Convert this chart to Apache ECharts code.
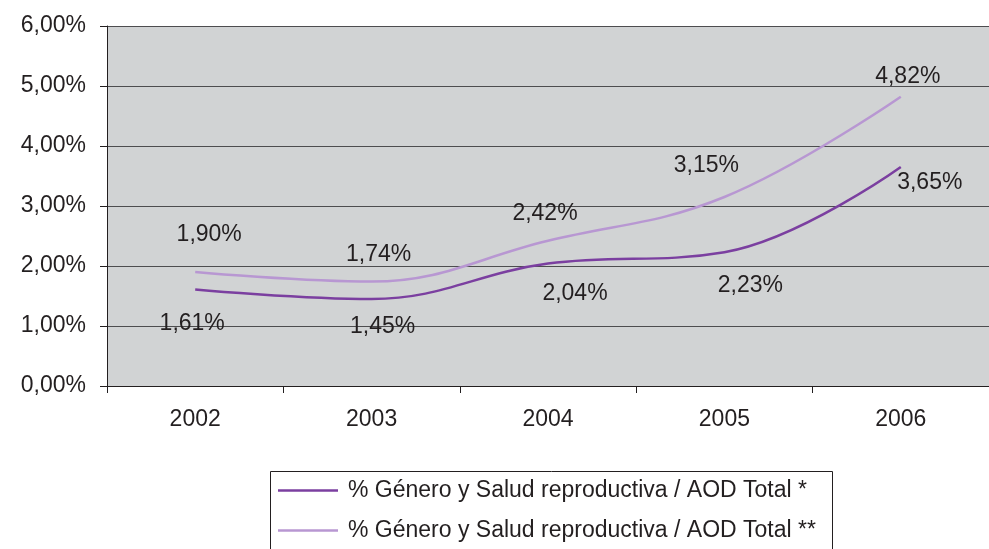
<!DOCTYPE html>
<html>
<head>
<meta charset="utf-8">
<title>Género y Salud reproductiva / AOD Total</title>
<script src="https://cdn.jsdelivr.net/npm/echarts@6/dist/echarts.min.js"></script>
<style>
  html, body { margin: 0; padding: 0; background: #fff; }
  #chart { width: 989px; height: 549px; }
</style>
</head>
<body>
<div id="chart"></div>
<script>
// datos del gráfico
const years = ['2002', '2003', '2004', '2005', '2006'];
const serie1Nombre = '% Género y Salud reproductiva / AOD Total *';
const serie2Nombre = '% Género y Salud reproductiva / AOD Total **';
const serie1 = [1.61, 1.45, 2.04, 2.23, 3.65];
const serie2 = [1.90, 1.74, 2.42, 3.15, 4.82];

// desplazamiento de cada etiqueta respecto a su punto (px)
const offs1 = [[-3, 34], [11, 28], [27, 30], [26, 33], [29, 16]];
const offs2 = [[14, -37], [7, -27], [-3, -27], [-18, -31], [7, -20]];

const fmt = v => v.toFixed(2).replace('.', ',') + '%';
const txt = '#231f20';
const fuente = 'Liberation Sans, Arial, sans-serif';

function conEtiquetas(valores, offs) {
    return valores.map((v, i) => ({
        value: v,
        label: { offset: offs[i] }
    }));
}

function serie(nombre, valores, offs, color) {
    return {
        name: nombre,
        type: 'line',
        smooth: 0.4,
        symbol: 'circle',
        symbolSize: 0,
        showSymbol: true,
        data: conEtiquetas(valores, offs),
        lineStyle: { color: color, width: 2.5 },
        itemStyle: { color: color },
        label: {
            show: true,
            position: 'inside',
            formatter: p => fmt(p.value),
            color: txt,
            fontSize: 23,
            fontFamily: fuente
        },
        emphasis: { disabled: true }
    };
}

const chart = echarts.init(document.getElementById('chart'));
chart.setOption({
    animation: false,
    backgroundColor: '#fff',
    grid: {
        left: 107, right: -12, top: 26, bottom: 163,
        show: true, backgroundColor: '#d1d3d4', borderWidth: 0
    },
    legend: {
        orient: 'vertical',
        left: 278, top: 479,
        icon: 'rect',
        itemWidth: 60, itemHeight: 2.5, itemGap: 17,
        padding: 0,
        textStyle: { color: txt, fontSize: 23, lineHeight: 23, fontFamily: fuente, padding: [0, 0, 0, 5] },
        data: [serie1Nombre, serie2Nombre]
    },
    // recuadro de la leyenda (se corta por abajo, como en el original)
    graphic: [{
        type: 'rect',
        silent: true,
        shape: { x: 270.5, y: 471.5, width: 562, height: 120 },
        style: { fill: 'none', stroke: '#231f20', lineWidth: 1 }
    }],
    xAxis: {
        type: 'category',
        data: years,
        boundaryGap: true,
        axisLine: { lineStyle: { color: '#231f20', width: 1 } },
        axisTick: { show: true, length: 7, lineStyle: { color: '#231f20' } },
        axisLabel: { color: txt, fontSize: 23, fontFamily: fuente, margin: 22 },
        splitLine: { show: false }
    },
    yAxis: {
        type: 'value',
        min: 0, max: 6, interval: 1,
        axisLine: { show: true, lineStyle: { color: '#231f20', width: 1 } },
        axisTick: { show: true, length: 7, lineStyle: { color: '#231f20' } },
        axisLabel: { color: txt, fontSize: 23, fontFamily: fuente, margin: 21, formatter: fmt },
        splitLine: { show: true, lineStyle: { color: '#4d4d4f', width: 1 } }
    },
    series: [
        serie(serie1Nombre, serie1, offs1, '#7b3fa0'),
        serie(serie2Nombre, serie2, offs2, '#b897d2')
    ]
});
window.addEventListener('resize', () => chart.resize());
</script>
</body>
</html>
